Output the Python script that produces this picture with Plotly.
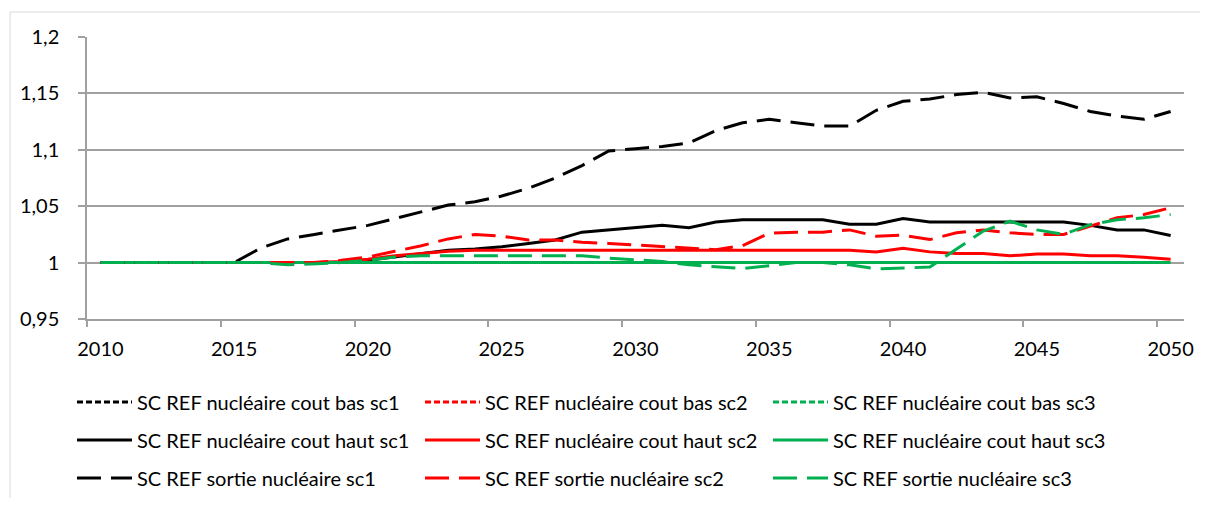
import plotly.graph_objects as go

years = list(range(2010, 2051))

bas_sc1 = [1.0] * 41
bas_sc2 = [1.0] * 41
bas_sc3 = [1.0] * 41

haut_sc1 = [1.0]*10 + [1.002, 1.005, 1.008, 1.011, 1.012, 1.014, 1.017, 1.020, 1.027, 1.029,
                       1.031, 1.033, 1.031, 1.036, 1.038, 1.038, 1.038, 1.038, 1.034, 1.034,
                       1.039, 1.036, 1.036, 1.036, 1.036, 1.036, 1.036, 1.033, 1.029, 1.029,
                       1.024]
haut_sc2 = [1.0]*9 + [1.001, 1.003, 1.006, 1.008, 1.010, 1.011, 1.011, 1.011, 1.011, 1.011, 1.011,
                      1.011, 1.011, 1.011, 1.011, 1.011, 1.011, 1.011, 1.011, 1.011, 1.0095,
                      1.0127, 1.0095, 1.008, 1.008, 1.006, 1.0077, 1.0077, 1.006, 1.006, 1.0047,
                      1.003]
haut_sc3 = [1.0] * 41

sortie_sc1 = [1.0]*6 + [1.013, 1.021, 1.025, 1.029, 1.033, 1.039, 1.045, 1.051, 1.054, 1.059,
                        1.066, 1.075, 1.086, 1.099, 1.101, 1.103, 1.106, 1.117, 1.124, 1.127,
                        1.124, 1.121, 1.121, 1.135, 1.143, 1.145, 1.149, 1.151, 1.146, 1.147,
                        1.141, 1.134, 1.130, 1.127, 1.134]
sortie_sc2 = [1.0]*9 + [1.002, 1.005, 1.010, 1.015, 1.021, 1.025, 1.0234, 1.020, 1.020, 1.018,
                        1.017, 1.0155, 1.014, 1.013, 1.0115, 1.015, 1.026, 1.027, 1.027, 1.029,
                        1.0234, 1.0243, 1.0204, 1.0264, 1.029, 1.0264, 1.025, 1.025, 1.032,
                        1.0397, 1.0426, 1.0486]
sortie_sc3 = [1.0]*7 + [0.998, 0.999, 1.0, 1.002, 1.005, 1.006, 1.006, 1.006, 1.006, 1.006,
                        1.006, 1.006, 1.004, 1.0027, 1.001, 0.998, 0.9962, 0.9947, 0.9973, 1.0,
                        1.0, 0.998, 0.9944, 0.9953, 0.996, 1.012, 1.028, 1.0367, 1.029, 1.025,
                        1.0337, 1.038, 1.0397, 1.0426]

y_tickvals = [0.95, 1.0, 1.05, 1.1, 1.15, 1.2]
y_ticktext = ["0,95", "1", "1,05", "1,1", "1,15", "1,2"]
x_tickvals = [2010, 2015, 2020, 2025, 2030, 2035, 2040, 2045, 2050]

BLACK, RED, GREEN = "#000000", "#FF0000", "#00B050"
SHORT = "6px,3px"
LONG = "24px,10px"
FONT = "Lato"
FS = 20

series = [
    ("SC REF nucléaire cout bas sc1", bas_sc1, BLACK, SHORT, "legend"),
    ("SC REF nucléaire cout bas sc2", bas_sc2, RED, SHORT, "legend"),
    ("SC REF nucléaire cout bas sc3", bas_sc3, GREEN, SHORT, "legend"),
    ("SC REF nucléaire cout haut sc1", haut_sc1, BLACK, "solid", "legend2"),
    ("SC REF nucléaire cout haut sc2", haut_sc2, RED, "solid", "legend2"),
    ("SC REF nucléaire cout haut sc3", haut_sc3, GREEN, "solid", "legend2"),
    ("SC REF sortie nucléaire sc1", sortie_sc1, BLACK, LONG, "legend3"),
    ("SC REF sortie nucléaire sc2", sortie_sc2, RED, LONG, "legend3"),
    ("SC REF sortie nucléaire sc3", sortie_sc3, GREEN, LONG, "legend3"),
]

fig = go.Figure()
for name, vals, col, dash, leg in series:
    fig.add_trace(go.Scatter(x=years, y=vals, name=name, mode="lines",
                             line=dict(color=col, width=3, dash=dash),
                             legend=leg))

# page offset of the figure (body margin)
OFF = 8
W, H = 1200, 490
L, T = 87 - OFF, 37 - OFF
R = W - (1184 - OFF)
B = H - (319 - OFF)
GRID = "#a0a0a0"

def leg(ypx):
    return dict(orientation="h", xref="container", yref="container",
                x=(72 - OFF) / W, y=1 - (ypx - OFF) / H, xanchor="left", yanchor="middle",
                entrywidth=278, entrywidthmode="pixels", itemwidth=55,
                font=dict(family=FONT, size=FS, color="#000000"),
                bgcolor="rgba(0,0,0,0)", traceorder="normal")

pw, ph = W - L - R, H - T - B
def px(xp):
    return (xp - OFF - L) / pw
def py(yp):
    return (H - B - (yp - OFF)) / ph

fig.update_layout(
    width=W, height=H,
    margin=dict(l=L, r=R, t=T, b=B, autoexpand=False),
    paper_bgcolor="white", plot_bgcolor="white",
    font=dict(family=FONT, size=FS, color="#000000"),
    legend=leg(402), legend2=leg(440), legend3=leg(478),
    xaxis=dict(range=[2009.5, 2050.5], tickmode="array", tickvals=x_tickvals,
               ticktext=[str(v) for v in x_tickvals], ticks="", showgrid=False,
               showline=True, linecolor=GRID, linewidth=1.5, zeroline=False,
               ticklabelstandoff=11,
               minor=dict(tickmode="array", tickvals=[2009.5 + 5 * i for i in range(9)],
                          ticks="outside", ticklen=6, tickcolor=GRID, tickwidth=1.5,
                          showgrid=False),
               tickfont=dict(family=FONT, size=FS, color="#000000")),
    yaxis=dict(range=[0.95, 1.2], tickmode="array", tickvals=y_tickvals, ticktext=y_ticktext,
               ticks="outside", ticklen=7, tickcolor=GRID, tickwidth=1.5,
               showgrid=True, gridcolor=GRID, gridwidth=1.5,
               showline=True, linecolor=GRID, linewidth=1.5, zeroline=False,
               ticklabelstandoff=15,
               tickfont=dict(family=FONT, size=FS, color="#000000")),
    shapes=[
        dict(type="line", xref="paper", yref="paper", x0=px(10), x1=px(10), y0=py(12), y1=py(520),
             line=dict(color="#d9d9d9", width=1)),
        dict(type="line", xref="paper", yref="paper", x0=px(10), x1=px(1220), y0=py(12), y1=py(12),
             line=dict(color="#d9d9d9", width=1)),
    ],
)

fig.write_html("out.html")
